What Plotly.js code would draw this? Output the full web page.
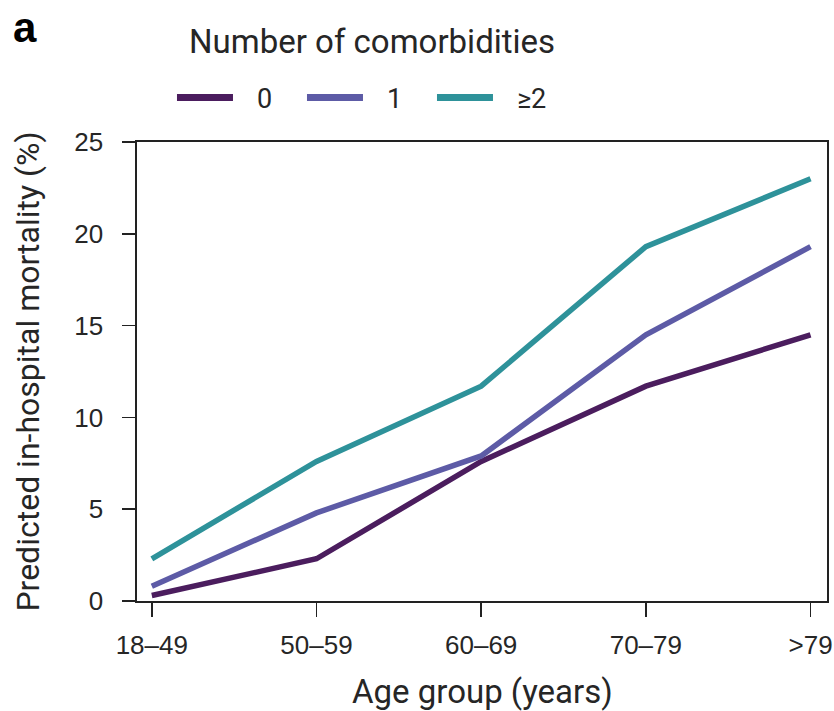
<!DOCTYPE html>
<html>
<head>
<meta charset="utf-8">
<script src="https://cdn.plot.ly/plotly-3.0.1.min.js"></script>
<style>html,body{margin:0;padding:0;background:#fff;}#chart{width:834px;height:711px;}</style>
</head>
<body>
<div id="chart"></div>
<script>
const ageGroups = ['18–49', '50–59', '60–69', '70–79', '>79'];
const seriesNames = ['0', '1', '≥2'];
const mortality0 = [0.3, 2.3, 7.6, 11.7, 14.5];
const mortality1 = [0.8, 4.8, 7.9, 14.5, 19.3];
const mortality2 = [2.3, 7.6, 11.7, 19.3, 23.0];
const colors = ['#4b1d5e', '#5d5ba6', '#2e929a'];

const seriesValues = [mortality0, mortality1, mortality2];
const font = 'Roboto, "Liberation Sans", Arial, sans-serif';
const tickFontFamily = '"Liberation Sans", Arial, sans-serif';
const textColor = '#262626';

const traces = seriesValues.map((vals, i) => ({
  x: ageGroups,
  y: vals,
  name: seriesNames[i],
  type: 'scatter',
  mode: 'lines',
  line: {color: colors[i], width: 5.5}
}));

const layout = {
  width: 834,
  height: 711,
  margin: {l: 137, r: 7, t: 142, b: 110},
  paper_bgcolor: '#ffffff',
  plot_bgcolor: '#ffffff',
  font: {family: font, size: 27, color: textColor},
  showlegend: true,
  legend: {
    orientation: 'h',
    x: 0.0507, y: 1.096,
    xanchor: 'left', yanchor: 'middle',
    font: {family: font, size: 27, color: textColor},
    itemwidth: 75,
    entrywidth: 40,
    tracegroupgap: 0
  },
  xaxis: {
    type: 'category',
    range: [-0.09, 4.1],
    showline: true, linecolor: '#222', linewidth: 1.6,
    mirror: true,
    ticks: 'outside', ticklen: 14, tickwidth: 1.6, tickcolor: '#222',
    ticklabelstandoff: 6,
    showgrid: false, zeroline: false,
    tickfont: {family: tickFontFamily, size: 26, color: textColor}
  },
  yaxis: {
    range: [0, 25],
    tickvals: [0, 5, 10, 15, 20, 25],
    showline: true, linecolor: '#222', linewidth: 1.6,
    mirror: true,
    ticks: 'outside', ticklen: 13, tickwidth: 1.6, tickcolor: '#222',
    ticklabelstandoff: 14,
    showgrid: false, zeroline: false,
    tickfont: {family: tickFontFamily, size: 26, color: textColor},
    title: {text: 'Predicted in-hospital mortality (%)', font: {family: font, size: 32, color: textColor}, standoff: 25}
  },
  annotations: [
    {text: 'Age group (years)', xref: 'paper', yref: 'paper', x: 0.5, y: -0.198,
     xanchor: 'center', yanchor: 'middle', showarrow: false,
     font: {family: font, size: 33, color: textColor}},
    {text: 'Number of comorbidities', xref: 'paper', yref: 'paper', x: 0.3406, y: 1.218,
     xanchor: 'center', yanchor: 'middle', showarrow: false,
     font: {family: font, size: 33, color: textColor}},
    {text: '<b>a</b>', xref: 'paper', yref: 'paper', x: -0.1623, y: 1.305,
     xanchor: 'center', yanchor: 'top', showarrow: false,
     font: {family: '"Liberation Sans", Arial, sans-serif', size: 42, color: '#000'}}
  ]
};

Plotly.newPlot('chart', traces, layout, {staticPlot: true, displayModeBar: false}).then(gd => {
  // Match the reference's legend key: shorter, thicker line segments
  gd.querySelectorAll('.legend .legendlines path').forEach(p => {
    p.setAttribute('d', 'M5,0h56');
    p.style.strokeWidth = '7px';
  });
});
</script>
</body>
</html>
